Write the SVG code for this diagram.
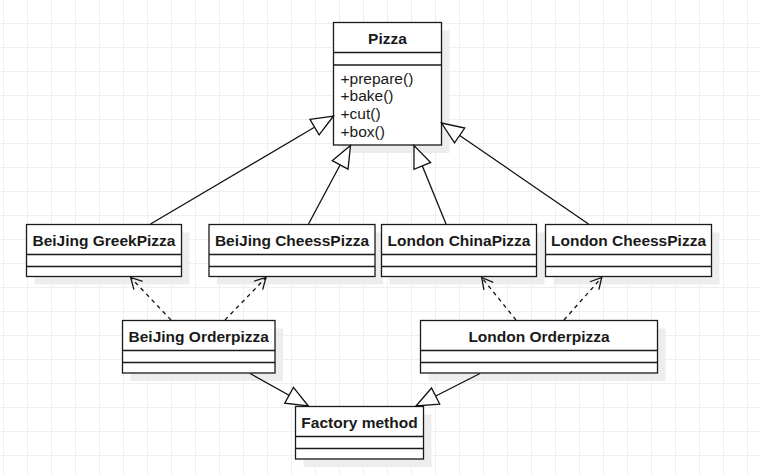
<svg xmlns="http://www.w3.org/2000/svg" width="760" height="474" viewBox="0 0 760 474">
  <defs>
    <pattern id="grid" x="3" y="23" width="24" height="24" patternUnits="userSpaceOnUse">
      <rect x="0" y="0" width="1" height="24" fill="#efefef"/>
      <rect x="0" y="0" width="24" height="1" fill="#efefef"/>
    </pattern>
    <marker id="tri" markerUnits="userSpaceOnUse" markerWidth="26" markerHeight="22" refX="22" refY="9" orient="auto" overflow="visible">
      <path d="M0,0 L22,9 L0,18 Z" fill="#ffffff" stroke="#111" stroke-width="1.3" stroke-linejoin="miter"/>
    </marker>
    <marker id="open" markerUnits="userSpaceOnUse" markerWidth="14" markerHeight="14" refX="11" refY="6" orient="auto" overflow="visible">
      <path d="M0,0 L11,6 L0,12" fill="none" stroke="#111" stroke-width="1.3"/>
    </marker>
  </defs>
  <style>
    .shadow { fill: #ededed; }
    .box { fill: #ffffff; stroke: #1a1a1a; stroke-width: 1.3; }
    .sep { stroke: #1a1a1a; stroke-width: 1.3; }
    .title { font-family: "Liberation Sans", Arial, sans-serif; font-size: 15.5px; font-weight: bold; fill: #1a1a1a; text-anchor: middle; }
    .member { font-family: "Liberation Sans", Arial, sans-serif; font-size: 15.5px; fill: #1a1a1a; }
    .inh { stroke: #111; stroke-width: 1.3; fill: none; marker-end: url(#tri); }
    .dep { stroke: #111; stroke-width: 1.3; fill: none; stroke-dasharray: 4 4; marker-end: url(#open); }
  </style>
  <rect x="0" y="0" width="760" height="474" fill="#ffffff"/>
  <rect x="0" y="0" width="760" height="474" fill="url(#grid)"/>

  <g id="pizza">
    <rect class="shadow" x="341.5" y="30.5" width="108" height="122.5"/>
    <rect class="box" x="333.5" y="22.5" width="108" height="122.5"/>
    <line class="sep" x1="333.5" y1="52.5" x2="441.5" y2="52.5"/>
    <line class="sep" x1="333.5" y1="65" x2="441.5" y2="65"/>
    <text class="title" x="387.5" y="43.5">Pizza</text>
    <text class="member" x="340.5" y="83.5">+prepare()</text>
    <text class="member" x="340.5" y="101.3">+bake()</text>
    <text class="member" x="340.5" y="119">+cut()</text>
    <text class="member" x="340.5" y="136.8">+box()</text>
  </g>

  <g id="beijing-greekpizza">
    <rect class="shadow" x="34.5" y="232.5" width="155" height="52"/>
    <rect class="box" x="26.5" y="224.5" width="155" height="52"/>
    <line class="sep" x1="26.5" y1="254.5" x2="181.5" y2="254.5"/>
    <line class="sep" x1="26.5" y1="266.5" x2="181.5" y2="266.5"/>
    <text class="title" x="104" y="245.5">BeiJing GreekPizza</text>
  </g>

  <g id="beijing-cheesspizza">
    <rect class="shadow" x="217" y="232.5" width="166" height="52"/>
    <rect class="box" x="209" y="224.5" width="166" height="52"/>
    <line class="sep" x1="209" y1="254.5" x2="375" y2="254.5"/>
    <line class="sep" x1="209" y1="266.5" x2="375" y2="266.5"/>
    <text class="title" x="292" y="245.5">BeiJing CheessPizza</text>
  </g>

  <g id="london-chinapizza">
    <rect class="shadow" x="389.5" y="232.5" width="155" height="52"/>
    <rect class="box" x="381.5" y="224.5" width="155" height="52"/>
    <line class="sep" x1="381.5" y1="254.5" x2="536.5" y2="254.5"/>
    <line class="sep" x1="381.5" y1="266.5" x2="536.5" y2="266.5"/>
    <text class="title" x="459" y="245.5">London ChinaPizza</text>
  </g>

  <g id="london-cheesspizza">
    <rect class="shadow" x="553.5" y="232.5" width="166" height="52"/>
    <rect class="box" x="545.5" y="224.5" width="166" height="52"/>
    <line class="sep" x1="545.5" y1="254.5" x2="711.5" y2="254.5"/>
    <line class="sep" x1="545.5" y1="266.5" x2="711.5" y2="266.5"/>
    <text class="title" x="628.5" y="245.5">London CheessPizza</text>
  </g>

  <g id="beijing-orderpizza">
    <rect class="shadow" x="130.5" y="328.5" width="152.5" height="52.5"/>
    <rect class="box" x="122.5" y="320.5" width="152.5" height="52.5"/>
    <line class="sep" x1="122.5" y1="350.5" x2="275" y2="350.5"/>
    <line class="sep" x1="122.5" y1="362.5" x2="275" y2="362.5"/>
    <text class="title" x="198.75" y="341.5">BeiJing Orderpizza</text>
  </g>

  <g id="london-orderpizza">
    <rect class="shadow" x="428.5" y="328.5" width="237" height="52.5"/>
    <rect class="box" x="420.5" y="320.5" width="237" height="52.5"/>
    <line class="sep" x1="420.5" y1="350.5" x2="657.5" y2="350.5"/>
    <line class="sep" x1="420.5" y1="362.5" x2="657.5" y2="362.5"/>
    <text class="title" x="539" y="341.5">London Orderpizza</text>
  </g>

  <g id="factory-method">
    <rect class="shadow" x="303.5" y="414.5" width="128" height="52.5"/>
    <rect class="box" x="295.5" y="406.5" width="128" height="52.5"/>
    <line class="sep" x1="295.5" y1="436.5" x2="423.5" y2="436.5"/>
    <line class="sep" x1="295.5" y1="448.5" x2="423.5" y2="448.5"/>
    <text class="title" x="359.5" y="427.5">Factory method</text>
  </g>

  <g id="connectors">
    <line class="inh" x1="150.5" y1="224" x2="333.5" y2="116"/>
    <line class="inh" x1="308.5" y1="224" x2="350.5" y2="145.5"/>
    <line class="inh" x1="446" y1="224" x2="414" y2="145.5"/>
    <line class="inh" x1="588.5" y1="224" x2="441.5" y2="123"/>
    <line class="dep" x1="171" y1="320" x2="130.7" y2="277.5"/>
    <line class="dep" x1="225" y1="320" x2="266" y2="277.5"/>
    <line class="dep" x1="516" y1="320" x2="481.7" y2="277.5"/>
    <line class="dep" x1="564" y1="320" x2="601.7" y2="277.5"/>
    <line class="inh" x1="250" y1="373.5" x2="308.3" y2="406"/>
    <line class="inh" x1="480" y1="373.5" x2="416" y2="406"/>
  </g>
</svg>
